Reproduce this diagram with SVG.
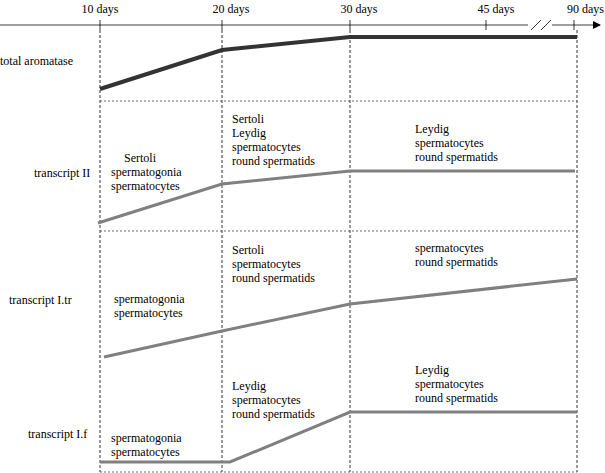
<svg xmlns="http://www.w3.org/2000/svg" width="605" height="473" viewBox="0 0 605 473" font-family="Liberation Serif, serif" font-size="12">
<style>
text{font-family:"Liberation Serif",serif;font-size:12px;fill:#000}
.v{stroke:#000;stroke-width:0.8;stroke-dasharray:3,2;fill:none}
.s{stroke:#444;stroke-width:0.8;stroke-dasharray:2,2;fill:none}
.g{stroke:#808080;stroke-width:3;fill:none}
</style>
<defs><marker id="ar" markerWidth="8" markerHeight="8" refX="7" refY="4" orient="auto" markerUnits="userSpaceOnUse"><path d="M0,0L8,4L0,8z" fill="#000"/></marker></defs>
<rect width="605" height="473" fill="#fff"/>
<g id="axis">
<path d="M0,25H528M552,25H600" stroke="#808080" stroke-width="1.3" marker-end="url(#ar)"/>
<path d="M531,30L541,20M541,30L551,20" stroke="#000" stroke-width="0.8"/>
<path d="M100,20V30M222,20V30M350,20V30M486,20V30M574,20V30" stroke="#000" stroke-width="0.8"/>
<text x="100" y="13" text-anchor="middle">10 days</text>
<text x="231" y="13" text-anchor="middle">20 days</text>
<text x="359" y="13" text-anchor="middle">30 days</text>
<text x="496" y="13" text-anchor="middle">45 days</text>
<text x="604" y="13" text-anchor="end">90 days</text>
</g>
<g id="grid">
<path class="v" d="M100,30V472M222,30V472M350,30V472M577,30V472"/>
<path class="s" d="M100,101H577M100,231H577M100,472H577"/>
</g>
<g id="connectors">
<path d="M100,89L222,50L350,37H577" stroke="#333" stroke-width="4" fill="none"/>
<path class="g" d="M98,223L222,184L350,171H575"/>
<path class="g" d="M104,357L222,331L350,304L577,279"/>
<path class="g" d="M100,462H230L350,412H577"/>
</g>
<g id="total"><text x="0" y="65">total aromatase</text></g>
<g id="t2">
<text x="34" y="177">transcript II</text>
<text x="124" y="162">Sertoli</text><text x="111" y="176">spermatogonia</text><text x="111" y="190">spermatocytes</text>
<text x="232" y="123">Sertoli</text><text x="232" y="137">Leydig</text><text x="232" y="151">spermatocytes</text><text x="232" y="165">round spermatids</text>
<text x="415" y="133">Leydig</text><text x="415" y="147">spermatocytes</text><text x="415" y="161">round spermatids</text>
</g>
<g id="t1tr">
<text x="9" y="304">transcript I.tr</text>
<text x="114" y="303">spermatogonia</text><text x="114" y="317">spermatocytes</text>
<text x="232" y="254">Sertoli</text><text x="232" y="268">spermatocytes</text><text x="232" y="282">round spermatids</text>
<text x="415" y="252">spermatocytes</text><text x="415" y="266">round spermatids</text>
</g>
<g id="t1f">
<text x="28" y="438">transcript I.f</text>
<text x="111" y="442">spermatogonia</text><text x="111" y="456">spermatocytes</text>
<text x="232" y="390">Leydig</text><text x="232" y="404">spermatocytes</text><text x="232" y="418">round spermatids</text>
<text x="415" y="374">Leydig</text><text x="415" y="388">spermatocytes</text><text x="415" y="402">round spermatids</text>
</g>
</svg>
